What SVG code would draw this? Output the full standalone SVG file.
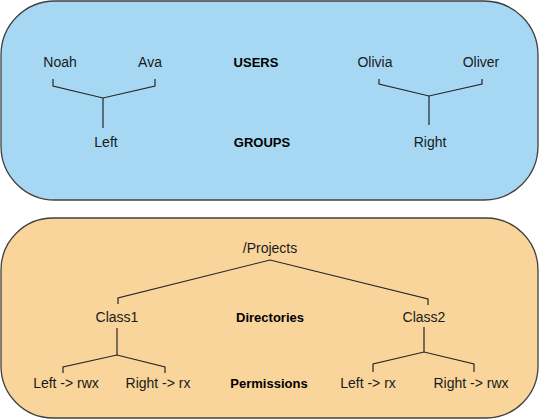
<svg xmlns="http://www.w3.org/2000/svg" width="541" height="420" viewBox="0 0 541 420">
<style>
.box{stroke:#404040;stroke-width:1.3}
.t{font-family:"Liberation Sans",Arial,sans-serif;font-size:14px;fill:#1a1a1a;text-anchor:middle}
.b{font-weight:bold;font-size:13px;fill:#000}
.c{fill:none;stroke:#262626;stroke-width:1.2}
</style>
<rect id="users-panel" class="box" x="1" y="1" width="537" height="199" rx="54" ry="54" fill="#A6D8F4"/>
<rect id="dirs-panel" class="box" x="1" y="218" width="537" height="200" rx="52" ry="52" fill="#F9D59B"/>
<g id="connectors">
<polyline class="c" points="53,79 53,86 103,98 155,86 155,79"/>
<line class="c" x1="103" y1="98" x2="103" y2="128"/>
<polyline class="c" points="379,79 379,84 429,96 482,84 482,79"/>
<line class="c" x1="429" y1="96" x2="429" y2="125"/>
<polyline class="c" points="118,304 118,298 270,260 428,299 428,305"/>
<line class="c" x1="117" y1="328" x2="117" y2="355"/>
<polyline class="c" points="63,373 63,367 117,355 165,367 165,373"/>
<line class="c" x1="424" y1="327" x2="424" y2="352"/>
<polyline class="c" points="373,372 373,364 424,352 474,364 474,372"/>
</g>
<g id="noah"><text class="t" x="60" y="67">Noah</text></g>
<g id="ava"><text class="t" x="150" y="67">Ava</text></g>
<g id="users"><text class="t b" x="256" y="67">USERS</text></g>
<g id="olivia"><text class="t" x="375" y="67">Olivia</text></g>
<g id="oliver"><text class="t" x="481" y="67">Oliver</text></g>
<g id="left"><text class="t" x="106" y="147">Left</text></g>
<g id="groups"><text class="t b" x="262" y="147">GROUPS</text></g>
<g id="right"><text class="t" x="430" y="147">Right</text></g>
<g id="projects"><text class="t" x="270" y="253">/Projects</text></g>
<g id="class1"><text class="t" x="117" y="322">Class1</text></g>
<g id="directories"><text class="t b" x="270" y="322">Directories</text></g>
<g id="class2"><text class="t" x="424" y="322">Class2</text></g>
<g id="c1-left"><text class="t" x="66" y="388">Left -&gt; rwx</text></g>
<g id="c1-right"><text class="t" x="158" y="388">Right -&gt; rx</text></g>
<g id="permissions"><text class="t b" x="269" y="388">Permissions</text></g>
<g id="c2-left"><text class="t" x="368" y="388">Left -&gt; rx</text></g>
<g id="c2-right"><text class="t" x="471" y="388">Right -&gt; rwx</text></g>
</svg>
